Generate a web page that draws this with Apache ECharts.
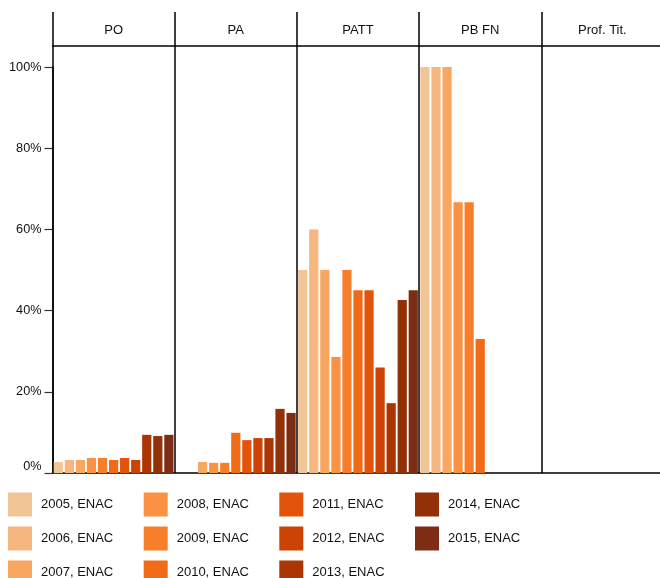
<!DOCTYPE html>
<html>
<head>
<meta charset="utf-8">
<script src="https://cdn.jsdelivr.net/npm/echarts@6/dist/echarts.min.js"></script>
<style>
html,body{margin:0;padding:0;background:#fff;}
#chart{width:660px;height:578px;}
</style>
</head>
<body>
<div id="chart"></div>
<script>
const categories = ['PO', 'PA', 'PATT', 'PB FN', 'Prof. Tit.'];
const yTicks = [0, 20, 40, 60, 80, 100];
const seriesNames = ['2005, ENAC','2006, ENAC','2007, ENAC','2008, ENAC','2009, ENAC','2010, ENAC','2011, ENAC','2012, ENAC','2013, ENAC','2014, ENAC','2015, ENAC'];
const colors = ['#f2c597','#f5b77f','#f9a660','#fb9142','#f77f2b','#f16a15','#e2540a','#cb4305','#ab3503','#923008','#7c2d14'];
// values per series (percent) for [PO, PA, PATT, PB FN, Prof. Tit.]
const v2005 = [2.7, 0, 50, 100, 0];
const v2006 = [3.2, 0, 60, 100, 0];
const v2007 = [3.2, 2.7, 50, 100, 0];
const v2008 = [3.7, 2.5, 28.6, 66.7, 0];
const v2009 = [3.7, 2.5, 50, 66.7, 0];
const v2010 = [3.2, 9.9, 45, 33, 0];
const v2011 = [3.7, 8.1, 45, 0, 0];
const v2012 = [3.2, 8.6, 26, 0, 0];
const v2013 = [9.4, 8.6, 17.2, 0, 0];
const v2014 = [9.1, 15.8, 42.6, 0, 0];
const v2015 = [9.4, 14.8, 45, 0, 0];
const allValues = [v2005, v2006, v2007, v2008, v2009, v2010, v2011, v2012, v2013, v2014, v2015];

const legendColumns = [
  seriesNames.slice(0, 3),
  seriesNames.slice(3, 6),
  seriesNames.slice(6, 9),
  seriesNames.slice(9, 11)
];

const chart = echarts.init(document.getElementById('chart'), null, {renderer: 'canvas'});
const font = 'Liberation Sans, Arial, sans-serif';

const series = seriesNames.map((name, i) => ({
  name: name,
  type: 'bar',
  xAxisIndex: 0,
  yAxisIndex: 0,
  data: allValues[i],
  barCategoryGap: '2%',
  barGap: '20%',
  itemStyle: {color: colors[i]},
  emphasis: {disabled: true}
}));

const legendLefts = [8, 143.7, 279.3, 415];
const legends = legendColumns.map((cols, k) => ({
  data: cols,
  orient: 'vertical',
  left: legendLefts[k], top: 492.5, height: 120,
  padding: 0,
  itemWidth: 24, itemHeight: 24, itemGap: 10,
  icon: 'rect',
  selectedMode: false,
  textStyle: {fontSize: 13, color: '#111', fontFamily: font, padding: [0, 0, 0, 4]}
}));

chart.setOption({
  animation: false,
  textStyle: {fontFamily: font},
  grid: [
    {left: 52.5, width: 611, top: 67, bottom: 105, outerBoundsMode: 'none', containLabel: false},
    {left: 52.5, width: 611, top: 46, bottom: 105, outerBoundsMode: 'none', containLabel: false}
  ],
  xAxis: [
    {
      type: 'category', gridIndex: 0, data: categories,
      axisLine: {show: true, lineStyle: {color: '#000', width: 1.5}},
      axisTick: {show: false}, axisLabel: {show: false}, splitLine: {show: false}
    },
    {
      type: 'category', gridIndex: 1, data: categories, position: 'top',
      axisLine: {show: true, onZero: false, lineStyle: {color: '#000', width: 1.5}},
      axisTick: {show: true, length: 34, inside: false, interval: 0, lineStyle: {color: '#000', width: 1.5}},
      axisLabel: {show: true, margin: 9, color: '#111', fontSize: 13, fontFamily: font, interval: 0},
      splitLine: {show: true, interval: 0, lineStyle: {color: '#000', width: 1.5}}
    }
  ],
  yAxis: [
    {
      type: 'value', gridIndex: 0, min: yTicks[0], max: yTicks[yTicks.length - 1], interval: 20,
      axisLine: {show: true, lineStyle: {color: '#000', width: 1.5}},
      axisTick: {show: true, length: 8, lineStyle: {color: '#333', width: 1.2}},
      axisLabel: {
        margin: 11, color: '#111', fontSize: 12.7, fontFamily: font,
        formatter: v => v === 0 ? '{z|0%}' : v + '%',
        rich: {z: {fontSize: 12.7, fontFamily: font, color: '#111', padding: [0, 0, 14, 0]}}
      },
      splitLine: {show: false}
    },
    {type: 'value', gridIndex: 1, show: false, min: 0, max: 100}
  ],
  legend: legends,
  series: series
});
</script>
</body>
</html>
